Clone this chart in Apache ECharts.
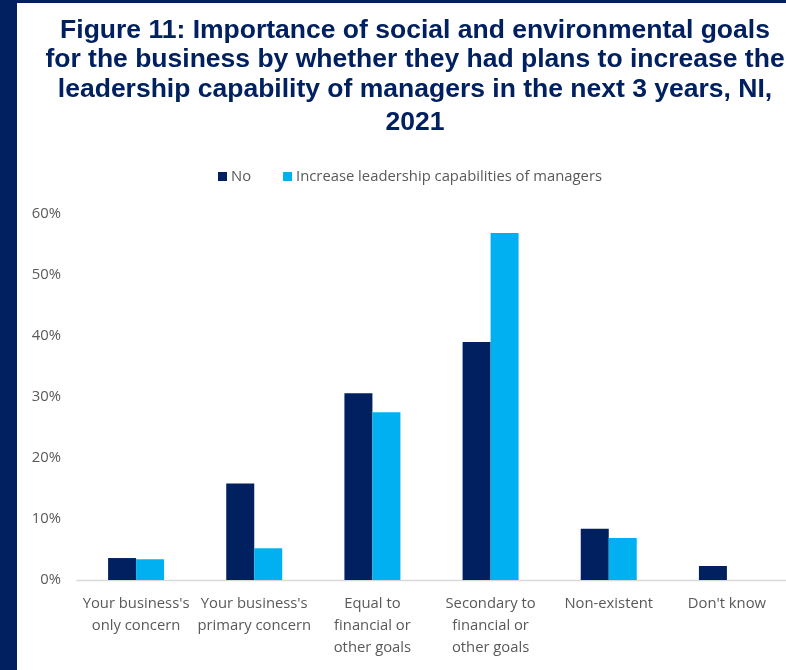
<!DOCTYPE html>
<html>
<head>
<meta charset="utf-8">
<style>
  html, body { margin: 0; padding: 0; background: #ffffff; }
  #chart { width: 786px; height: 670px; }
</style>
<script src="https://cdn.jsdelivr.net/npm/echarts@6/dist/echarts.min.js"></script>
</head>
<body>
<div id="chart"></div>
<script>
// Importance of social and environmental goals, NI 2021 (percent of businesses)
const categories = [
  "Your business's\nonly concern",
  "Your business's\nprimary concern",
  "Equal to\nfinancial or\nother goals",
  "Secondary to\nfinancial or\nother goals",
  "Non-existent",
  "Don't know"
];
const seriesNames = ["No", "Increase leadership capabilities of managers"];
const noValues = [3.6, 15.8, 30.6, 39.0, 8.4, 2.3];
const increaseValues = [3.4, 5.2, 27.5, 56.9, 6.9, 0];
const yTicks = { min: 0, max: 60, interval: 10 };

const titleLines = [
  "Figure 11: Importance of social and environmental goals",
  "for the business by whether they had plans to increase the",
  "leadership capability of managers in the next 3 years, NI,",
  "2021"
];

const NAVY = "#002060";
const CYAN = "#00B0F0";
const GREY_TEXT = "#595959";
const BODY_FONT = "'Open Sans', Lato, sans-serif";
const TITLE_FONT = "'Liberation Sans', Arial, sans-serif";
const BODY_SIZE = 14.8;

const chart = echarts.init(document.getElementById("chart"), null, { renderer: "canvas" });

const titleLine = (lh) => ({ fontFamily: TITLE_FONT, fontWeight: "bold", fontSize: 26.5, color: NAVY, lineHeight: lh });

chart.setOption({
  animation: false,
  backgroundColor: "#ffffff",
  title: {
    text: titleLines.map((t, i) => "{l" + i + "|" + t + "}").join("\n"),
    left: 410,
    top: 12,
    textAlign: "center",
    textStyle: {
      rich: { l0: titleLine(28), l1: titleLine(29), l2: titleLine(31), l3: titleLine(36) }
    }
  },
  graphic: [
    { type: "rect", left: 0, top: 0, shape: { width: 17, height: 670 }, style: { fill: NAVY }, silent: true },
    { type: "rect", left: 0, top: 0, shape: { width: 786, height: 3 }, style: { fill: NAVY }, silent: true }
  ],
  legend: {
    data: seriesNames,
    left: 213,
    top: 164,
    icon: "rect",
    itemWidth: 9,
    itemHeight: 9,
    itemGap: 32,
    textStyle: { color: GREY_TEXT, fontFamily: BODY_FONT, fontSize: BODY_SIZE, padding: [0, 0, 0, -1] }
  },
  grid: { left: 77, right: 0, top: 214, bottom: 90, containLabel: false },
  xAxis: {
    type: "category",
    data: categories,
    axisLine: { show: true, lineStyle: { color: "#D9D9D9", width: 1.3 } },
    axisTick: { show: false },
    axisLabel: {
      interval: 0,
      margin: 13,
      color: GREY_TEXT,
      fontFamily: BODY_FONT,
      fontSize: BODY_SIZE,
      lineHeight: 22
    }
  },
  yAxis: {
    type: "value",
    min: yTicks.min,
    max: yTicks.max,
    interval: yTicks.interval,
    axisLine: { show: false },
    axisTick: { show: false },
    splitLine: { show: false },
    axisLabel: {
      formatter: "{value}%",
      margin: 16,
      color: GREY_TEXT,
      fontFamily: BODY_FONT,
      fontSize: BODY_SIZE
    }
  },
  series: [
    {
      name: seriesNames[0],
      type: "bar",
      data: noValues,
      barWidth: 28,
      barGap: "0%",
      itemStyle: { color: NAVY }
    },
    {
      name: seriesNames[1],
      type: "bar",
      data: increaseValues,
      barWidth: 28,
      barGap: "0%",
      itemStyle: { color: CYAN }
    }
  ]
});
</script>
</body>
</html>
